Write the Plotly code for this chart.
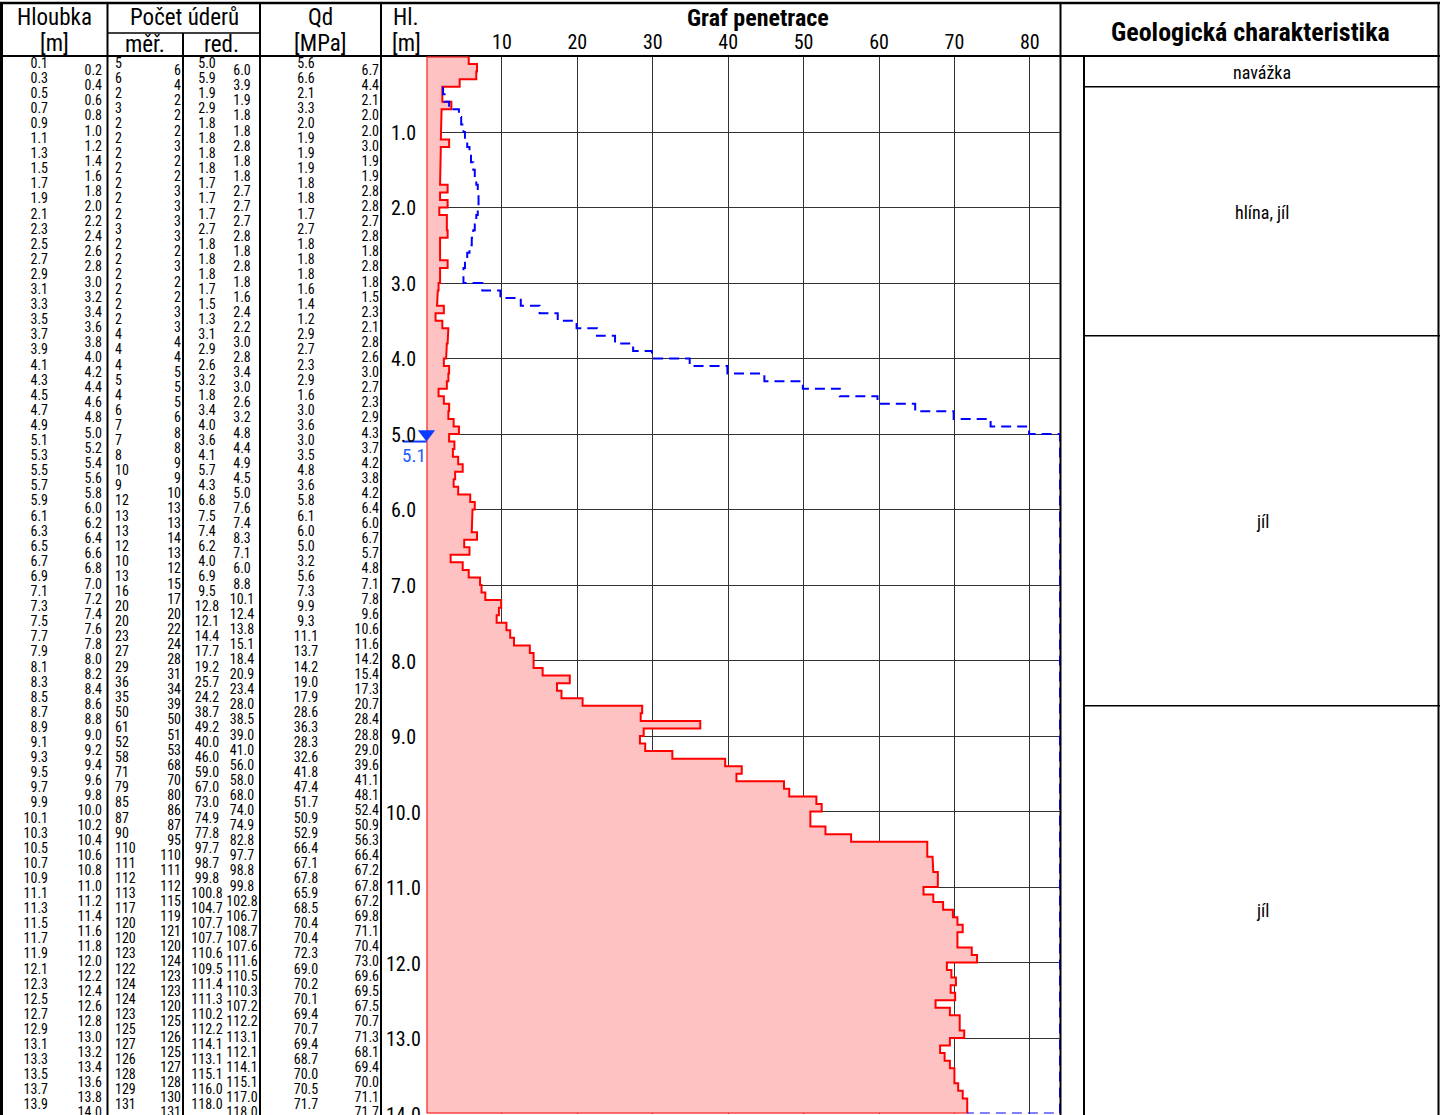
import plotly.graph_objects as go

W, H = 1440, 1115


def fx(px):
    return px / W


def fy(py):
    return 1 - py / H


NARROW = "Liberation Sans Narrow, Arial Narrow, Roboto Condensed, Liberation Sans, sans-serif"

# ---- penetration log data (one row per 0.1 m) ----
depth = [round(0.1 * i, 1) for i in range(1, 141)]

blows_meas = [5, 6, 6, 4, 2, 2, 3, 2, 2, 2,
              2, 3, 2, 2, 2, 2, 2, 3, 2, 3,
              2, 3, 3, 3, 2, 2, 2, 3, 2, 2,
              2, 2, 2, 3, 2, 3, 4, 4, 4, 4,
              4, 5, 5, 5, 4, 5, 6, 6, 7, 8,
              7, 8, 8, 9, 10, 9, 9, 10, 12, 13,
              13, 13, 13, 14, 12, 13, 10, 12, 13, 15,
              16, 17, 20, 20, 20, 22, 23, 24, 27, 28,
              29, 31, 36, 34, 35, 39, 50, 50, 61, 51,
              52, 53, 58, 68, 71, 70, 79, 80, 85, 86,
              87, 87, 90, 95, 110, 110, 111, 111, 112, 112,
              113, 115, 117, 119, 120, 121, 120, 120, 123, 124,
              122, 123, 124, 123, 124, 120, 123, 125, 125, 126,
              127, 125, 126, 127, 128, 128, 129, 130, 131, 131]

blows_red = [5.0, 6.0, 5.9, 3.9, 1.9, 1.9, 2.9, 1.8, 1.8, 1.8,
             1.8, 2.8, 1.8, 1.8, 1.8, 1.8, 1.7, 2.7, 1.7, 2.7,
             1.7, 2.7, 2.7, 2.8, 1.8, 1.8, 1.8, 2.8, 1.8, 1.8,
             1.7, 1.6, 1.5, 2.4, 1.3, 2.2, 3.1, 3.0, 2.9, 2.8,
             2.6, 3.4, 3.2, 3.0, 1.8, 2.6, 3.4, 3.2, 4.0, 4.8,
             3.6, 4.4, 4.1, 4.9, 5.7, 4.5, 4.3, 5.0, 6.8, 7.6,
             7.5, 7.4, 7.4, 8.3, 6.2, 7.1, 4.0, 6.0, 6.9, 8.8,
             9.5, 10.1, 12.8, 12.4, 12.1, 13.8, 14.4, 15.1, 17.7, 18.4,
             19.2, 20.9, 25.7, 23.4, 24.2, 28.0, 38.7, 38.5, 49.2, 39.0,
             40.0, 41.0, 46.0, 56.0, 59.0, 58.0, 67.0, 68.0, 73.0, 74.0,
             74.9, 74.9, 77.8, 82.8, 97.7, 97.7, 98.7, 98.8, 99.8, 99.8,
             100.8, 102.8, 104.7, 106.7, 107.7, 108.7, 107.7, 107.6, 110.6, 111.6,
             109.5, 110.5, 111.4, 110.3, 111.3, 107.2, 110.2, 112.2, 112.2, 113.1,
             114.1, 112.1, 113.1, 114.1, 115.1, 115.1, 116.0, 117.0, 118.0, 118.0]

qd = [5.6, 6.7, 6.6, 4.4, 2.1, 2.1, 3.3, 2.0, 2.0, 2.0,
      1.9, 3.0, 1.9, 1.9, 1.9, 1.9, 1.8, 2.8, 1.8, 2.8,
      1.7, 2.7, 2.7, 2.8, 1.8, 1.8, 1.8, 2.8, 1.8, 1.8,
      1.6, 1.5, 1.4, 2.3, 1.2, 2.1, 2.9, 2.8, 2.7, 2.6,
      2.3, 3.0, 2.9, 2.7, 1.6, 2.3, 3.0, 2.9, 3.6, 4.3,
      3.0, 3.7, 3.5, 4.2, 4.8, 3.8, 3.6, 4.2, 5.8, 6.4,
      6.1, 6.0, 6.0, 6.7, 5.0, 5.7, 3.2, 4.8, 5.6, 7.1,
      7.3, 7.8, 9.9, 9.6, 9.3, 10.6, 11.1, 11.6, 13.7, 14.2,
      14.2, 15.4, 19.0, 17.3, 17.9, 20.7, 28.6, 28.4, 36.3, 28.8,
      28.3, 29.0, 32.6, 39.6, 41.8, 41.1, 47.4, 48.1, 51.7, 52.4,
      50.9, 50.9, 52.9, 56.3, 66.4, 66.4, 67.1, 67.2, 67.8, 67.8,
      65.9, 67.2, 68.5, 69.8, 70.4, 71.1, 70.4, 70.4, 72.3, 73.0,
      69.0, 69.6, 70.2, 69.5, 70.1, 67.5, 69.4, 70.7, 70.7, 71.3,
      69.4, 68.1, 68.7, 69.4, 70.0, 70.0, 70.5, 71.1, 71.7, 71.7]

# second (dashed) curve, value per 0.1 m interval ending at blue_depth
blue_depth = [0.5, 0.6, 0.7, 0.8, 0.9, 1.0, 1.1, 1.2, 1.3, 1.4,
              1.5, 1.6, 1.7, 1.8, 1.9, 2.0, 2.1, 2.2, 2.3, 2.4,
              2.5, 2.6, 2.7, 2.8, 2.9, 3.0, 3.1, 3.2, 3.3, 3.4,
              3.5, 3.6, 3.7, 3.8, 3.9, 4.0, 4.1, 4.2, 4.3, 4.4,
              4.5, 4.6, 4.7, 4.8, 4.9, 5.0]
blue_val = [2.2, 2.4, 3.0, 4.3, 4.6, 4.9, 5.1, 5.4, 5.7, 5.9,
            6.2, 6.4, 6.6, 6.8, 6.9, 6.9, 6.8, 6.6, 6.4, 6.2,
            6.0, 5.7, 5.4, 5.1, 4.9, 4.9, 7.4, 9.8, 12.5, 15.0,
            17.4, 19.9, 22.6, 25.0, 27.4, 29.9, 34.9, 39.9, 44.8, 49.9,
            54.8, 59.8, 64.8, 69.9, 74.8, 79.9]
blue_rest = 84.0

gwl = 5.1  # groundwater level [m]

layer_top = [0.0, 0.4, 3.7, 8.6]
layer_bot = [0.4, 3.7, 8.6, 14.0]
layer_name = ["navážka", "hlína, jíl", "jíl", "jíl"]

graph_ticks = [10, 20, 30, 40, 50, 60, 70, 80]
depth_ticks = [1.0, 2.0, 3.0, 4.0, 5.0, 6.0, 7.0, 8.0, 9.0, 10.0, 11.0, 12.0, 13.0, 14.0]

X_MAX = 84.0
D_MAX = 14.0

fig = go.Figure()

# ---- penetration graph (x/y) ----
rx, ry = [0.0], [0.0]
for d, q in zip(depth, qd):
    rx += [q, q]
    ry += [round(d - 0.1, 1), d]
rx += [0.0, 0.0]
ry += [depth[-1], 0.0]
fig.add_trace(go.Scatter(x=rx, y=ry, mode="lines", fill="toself",
                         fillcolor="#FFC2C2", line=dict(color="#FF0000", width=2),
                         hoverinfo="skip", showlegend=False))

bx, by = [], []
for d, v in zip(blue_depth, blue_val):
    bx += [v, v]
    by += [round(d - 0.1, 1), d]
bx += [blue_rest, blue_rest, qd[-1]]
by += [blue_depth[-1], depth[-1], depth[-1]]
fig.add_trace(go.Scatter(x=bx, y=by, mode="lines", cliponaxis=False,
                         line=dict(color="#0000FF", width=2, dash="10px,6px"),
                         hoverinfo="skip", showlegend=False))

# groundwater marker: triangle tip sits on the level
fig.add_trace(go.Scatter(x=[0], y=[gwl - 0.1], mode="markers", cliponaxis=False,
                         marker=dict(symbol="triangle-down", size=15, color="#0A3CFF",
                                     line=dict(width=0)),
                         hoverinfo="skip", showlegend=False))

# ---- table columns (x2/y2, x in pixel-like units) ----
odd = slice(0, None, 2)
even = slice(1, None, 2)
cols = [
    (depth, "{:.1f}", odd, 48, "middle left"),
    (depth, "{:.1f}", even, 102, "middle left"),
    (blows_meas, "{}", odd, 115, "middle right"),
    (blows_meas, "{}", even, 181, "middle left"),
    (blows_red, "{:.1f}", odd, 207, "middle center"),
    (blows_red, "{:.1f}", even, 242, "middle center"),
    (qd, "{:.1f}", odd, 306, "middle center"),
    (qd, "{:.1f}", even, 379, "middle left"),
]
for vals, fmt, sl, xpos, tpos in cols:
    ys = depth[sl]
    fig.add_trace(go.Scatter(x=[xpos] * len(ys), y=ys, mode="text",
                             text=[fmt.format(v) for v in vals[sl]],
                             textposition=tpos, cliponaxis=False,
                             textfont=dict(family=NARROW, size=14, color="black"),
                             xaxis="x2", yaxis="y2", hoverinfo="skip", showlegend=False))

# empty helper trace so the geology subplot exists
fig.add_trace(go.Scatter(x=[], y=[], xaxis="x3", yaxis="y3", showlegend=False))

y_dom = [fy(1113.5), fy(56.5)]

fig.update_layout(
    width=W, height=H, margin=dict(l=0, r=0, t=0, b=0),
    paper_bgcolor="white", plot_bgcolor="rgba(0,0,0,0)",
    xaxis=dict(domain=[fx(426.5), fx(1060)], range=[0, X_MAX], side="top",
               tickvals=graph_ticks, ticks="", showgrid=True, gridcolor="#333333",
               gridwidth=1, zeroline=False, showline=False,
               tickfont=dict(family=NARROW, size=20, color="black"),
               ticklabelstandoff=3),
    yaxis=dict(domain=y_dom, range=[D_MAX, 0], tickvals=depth_ticks[:-1],
               showticklabels=False, ticks="", showgrid=True, gridcolor="#333333",
               gridwidth=1, zeroline=False, showline=False),
    xaxis2=dict(domain=[0, fx(426.5)], range=[0, 426.5], visible=False),
    yaxis2=dict(domain=y_dom, range=[D_MAX, 0], matches="y", visible=False, anchor="x2"),
    xaxis3=dict(domain=[fx(1085), 1], range=[0, 355], visible=False),
    yaxis3=dict(domain=y_dom, range=[D_MAX, 0], matches="y", visible=False, anchor="x3"),
)

shapes = []


def hline(py, x0, x1, w=2):
    shapes.append(dict(type="line", xref="paper", yref="paper", x0=fx(x0), x1=fx(x1),
                       y0=fy(py), y1=fy(py), line=dict(color="black", width=w), layer="below"))


def vline(px, y0, y1, w=2):
    shapes.append(dict(type="line", xref="paper", yref="paper", x0=fx(px), x1=fx(px),
                       y0=fy(y0), y1=fy(y1), line=dict(color="black", width=w), layer="below"))


hline(3, 0, W, 2.5)
hline(56, 0, W, 2)
hline(33, 107, 260, 1.5)
vline(1.5, 3, H, 3)
vline(107.5, 3, H, 2)
vline(183, 33, H, 2)
vline(260, 3, H, 2)
vline(381, 3, H, 2)
vline(1060.5, 3, H, 2)
vline(1084, 56, H, 2)
vline(1438.5, 3, H, 2)

# geological layer boundaries
for b in layer_bot[:-1]:
    shapes.append(dict(type="line", xref="paper", yref="y", x0=fx(1084), x1=fx(W),
                       y0=b, y1=b, line=dict(color="black", width=1.5)))

# groundwater level line under the marker
shapes.append(dict(type="line", xref="paper", yref="y", x0=fx(403), x1=fx(426.5),
                   y0=gwl, y1=gwl, line=dict(color="#0A3CFF", width=2)))

fig.update_layout(shapes=shapes)

annotations = []

# depth scale in the "Hl." column
for d in depth_ticks:
    annotations.append(dict(text="{:.1f}".format(d), xref="x2", yref="y2", x=403, y=d,
                            xanchor="center", yanchor="middle", yshift=-1,
                            showarrow=False, borderpad=0,
                            font=dict(family=NARROW, size=20, color="black")))

# geological description labels
for a, b, name in zip(layer_top, layer_bot, layer_name):
    annotations.append(dict(text=name, xref="x3", yref="y3", x=177, y=(a + b) / 2,
                            xanchor="center", yanchor="middle", yshift=-1,
                            showarrow=False,
                            font=dict(family=NARROW, size=18, color="black")))

headers = [
    ("Hloubka", 54, 18, 23, False),
    ("[m]", 54, 43, 23, False),
    ("Počet úderů", 184, 18, 23, False),
    ("měř.", 145, 44, 23, False),
    ("red.", 221, 44, 23, False),
    ("Qd", 320, 18, 23, False),
    ("[MPa]", 320, 43, 23, False),
    ("Hl.", 406, 18, 23, False),
    ("[m]", 406, 43, 23, False),
    ("Graf penetrace", 758, 18, 24, True),
    ("Geologická charakteristika", 1250, 32, 26, True),
]
for txt, px, py, size, bold in headers:
    annotations.append(dict(text=f"<b>{txt}</b>" if bold else txt, xref="paper", yref="paper",
                            x=fx(px), y=fy(py), xanchor="center", yanchor="middle",
                            showarrow=False, borderpad=0,
                            font=dict(family=NARROW, size=size, color="black")))

annotations.append(dict(text=f"{gwl:.1f}", xref="paper", yref="y", x=fx(414), y=gwl,
                        xanchor="center", yanchor="top", yshift=-1, showarrow=False,
                        borderpad=0, font=dict(family=NARROW, size=19, color="#1E5BFF")))

fig.update_layout(annotations=annotations)

fig.write_html("out.html")
